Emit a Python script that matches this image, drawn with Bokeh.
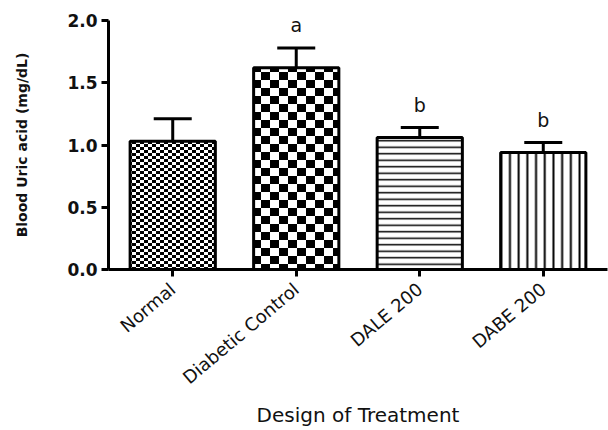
import base64
from bokeh.plotting import figure
from bokeh.models import (ColumnDataSource, FactorRange, Range1d, Whisker, TeeHead,
                          FixedTicker, PrintfTickFormatter, ImageURLTexture, LabelSet)
from bokeh.core.properties import value
from bokeh.embed import file_html
from bokeh.resources import INLINE

categories = ["Normal", "Diabetic Control", "DALE 200", "DABE 200"]
means = [1.03, 1.62, 1.06, 0.94]
sem = [0.18, 0.16, 0.08, 0.08]
letters = ["", "a", "b", "b"]
y_ticks = [0.0, 0.5, 1.0, 1.5, 2.0]

def checker_url(cw, ch):
    w, h = cw * 2, ch * 2
    svg = (f'<svg xmlns="http://www.w3.org/2000/svg" width="{w}" height="{h}">'
           f'<rect width="{w}" height="{h}" fill="white"/>'
           f'<rect width="{cw}" height="{ch}" fill="black"/>'
           f'<rect x="{cw}" y="{ch}" width="{cw}" height="{ch}" fill="black"/></svg>')
    return "data:image/svg+xml;base64," + base64.b64encode(svg.encode()).decode()

fine = ImageURLTexture(url=checker_url(4, 3), repetition="repeat")
coarse = ImageURLTexture(url=checker_url(9, 8), repetition="repeat")

upper = [m + s for m, s in zip(means, sem)]
src = ColumnDataSource(dict(x=categories, top=means, upper=upper, lab=letters,
                            hatch=["fine", "coarse", "horizontal_line", "vertical_line"],
                            hscale=[3, 8, 6.5, 8.7], hweight=[1, 1, 1.5, 2]))

p = figure(x_range=FactorRange(factors=categories, range_padding=0.02, range_padding_units="absolute"),
           y_range=Range1d(0, 2.0),
           width=608, height=430, output_backend="svg", toolbar_location=None,
           min_border_left=108, min_border_top=20, min_border_bottom=160, min_border_right=1)
p.outline_line_color = None
p.xgrid.grid_line_color = None
p.ygrid.grid_line_color = None

p.vbar(x="x", top="top", width=0.69, source=src, fill_color="white",
       line_color="black", line_width=3,
       hatch_pattern="hatch", hatch_color="black", hatch_scale="hscale", hatch_weight="hweight",
       hatch_extra={"fine": fine, "coarse": coarse})

w = Whisker(base="x", upper="upper", lower="top", source=src, dimension="height",
            line_width=3, line_color="black",
            upper_head=TeeHead(size=38, line_width=3, line_color="black"), lower_head=None)
p.add_layout(w)

labels = LabelSet(x="x", y="upper", text="lab", source=src, text_align="center",
                  text_baseline="bottom", y_offset=12, text_font=value("DejaVu Sans"),
                  text_font_size="19px", text_color="#111111")
p.add_layout(labels)

for ax in (p.xaxis[0], p.yaxis[0]):
    ax.axis_line_width = 3
    ax.major_tick_line_width = 3
    ax.major_tick_out = 7
    ax.major_tick_in = 0
    ax.minor_tick_line_color = None
    ax.major_label_text_color = "#111111"
    ax.axis_label_text_color = "#111111"

p.yaxis.ticker = FixedTicker(ticks=y_ticks)
p.yaxis.formatter = PrintfTickFormatter(format="%.1f")
p.yaxis.major_label_text_font = "DejaVu Sans"
p.yaxis.major_label_text_font_style = "bold"
p.yaxis.major_label_text_font_size = "17px"
p.yaxis.major_label_standoff = 4
p.yaxis.axis_label = "Blood Uric acid (mg/dL)"
p.yaxis.axis_label_text_font = "DejaVu Sans"
p.yaxis.axis_label_text_font_style = "bold"
p.yaxis.axis_label_text_font_size = "14px"
p.yaxis.axis_label_standoff = 34

p.xaxis.major_label_orientation = 0.7
p.xaxis.major_label_text_font = "DejaVu Sans"
p.xaxis.major_label_text_font_size = "18px"
p.xaxis.major_label_standoff = 10
p.xaxis.axis_label = "Design of Treatment"
p.xaxis.axis_label_text_font = "DejaVu Sans"
p.xaxis.axis_label_text_font_style = "normal"
p.xaxis.axis_label_text_font_size = "20px"
p.xaxis.axis_label_standoff = 4

open("out.html", "w").write(file_html(p, INLINE))
